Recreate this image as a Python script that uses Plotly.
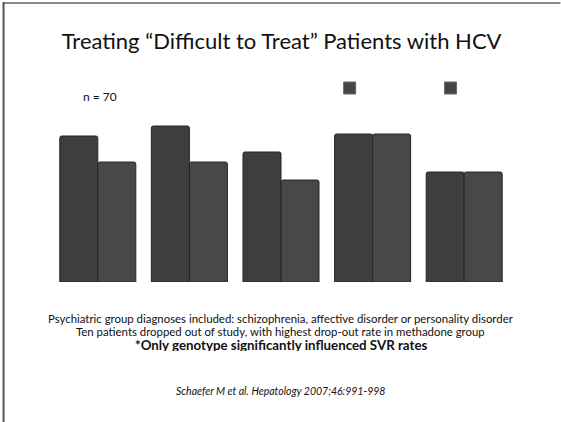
import plotly.graph_objects as go

categories = ["Group 1", "Group 2", "Group 3", "Group 4", "Group 5"]
series_a = [73, 78, 65, 74, 55]
series_b = [60, 60, 51, 74, 55]

W, H = 561, 422
L, R, T, B = 52, 50.5, 82, 140
PW = W - L - R
PH = H - T - B

def px_x(p):
    return (p - L) / PW

def px_y(p):
    return 1 - (p - T) / PH

fig = go.Figure()
fig.add_trace(go.Bar(x=categories, y=series_a, marker=dict(color="#3e3e3e", line=dict(color="#262626", width=1))))
fig.add_trace(go.Bar(x=categories, y=series_b, marker=dict(color="#484848", line=dict(color="#262626", width=1))))

font = "Lato, 'Open Sans', sans-serif"

shapes = [
    # slide frame
    dict(type="line", xref="paper", yref="paper", x0=px_x(3), x1=px_x(561), y0=px_y(3), y1=px_y(3),
         line=dict(color="#8a8a8a", width=2)),
    dict(type="line", xref="paper", yref="paper", x0=px_x(3.5), x1=px_x(3.5), y0=px_y(2), y1=px_y(422),
         line=dict(color="#555555", width=2)),
    # legend-like squares
    dict(type="rect", xref="paper", yref="paper", x0=px_x(344), x1=px_x(356), y0=px_y(82), y1=px_y(94),
         fillcolor="#444444", line=dict(color="#666666", width=1)),
    dict(type="rect", xref="paper", yref="paper", x0=px_x(445), x1=px_x(457), y0=px_y(82), y1=px_y(94),
         fillcolor="#444444", line=dict(color="#666666", width=1)),
]

def note(text, cx, cy, size, h=None):
    d = dict(text=text, x=px_x(cx), y=px_y(cy), xref="paper", yref="paper", showarrow=False,
             xanchor="center", yanchor="middle",
             font=dict(size=size, color="#111111", family=font))
    if h:
        d["height"] = h
    return d

annotations = [
    note("n = 70", 100, 97, 12),
    note("Psychiatric group diagnoses included: schizophrenia, affective disorder or personality disorder",
         281, 318, 11.4, 13),
    note("Ten patients dropped out of study, with highest drop-out rate in methadone group",
         281, 331, 11.4, 13),
    note("<b>*Only genotype significantly influenced SVR rates</b>", 281, 344, 13.3, 13),
    note("<i>Schaefer M et al. Hepatology 2007;46:991-998</i>", 281, 391, 10.5),
]

fig.update_layout(
    width=W, height=H,
    margin=dict(l=L, r=R, t=T, b=B, pad=0),
    paper_bgcolor="white", plot_bgcolor="white",
    barmode="group", bargap=0.17, bargroupgap=0,
    showlegend=False,
    title=dict(text="Treating \u201cDifficult to Treat\u201d Patients with HCV", x=0.502, xanchor="center",
               y=1 - 41 / H, yanchor="middle", font=dict(size=22, color="#111111", family=font)),
    xaxis=dict(visible=False, range=[-0.5, 4.5]),
    yaxis=dict(visible=False, range=[0, 100]),
    shapes=shapes, annotations=annotations,
    barcornerradius=2,
)

fig.write_html("out.html", config={"displayModeBar": False},
               post_script="document.body.style.margin='0';document.body.style.padding='0';")
